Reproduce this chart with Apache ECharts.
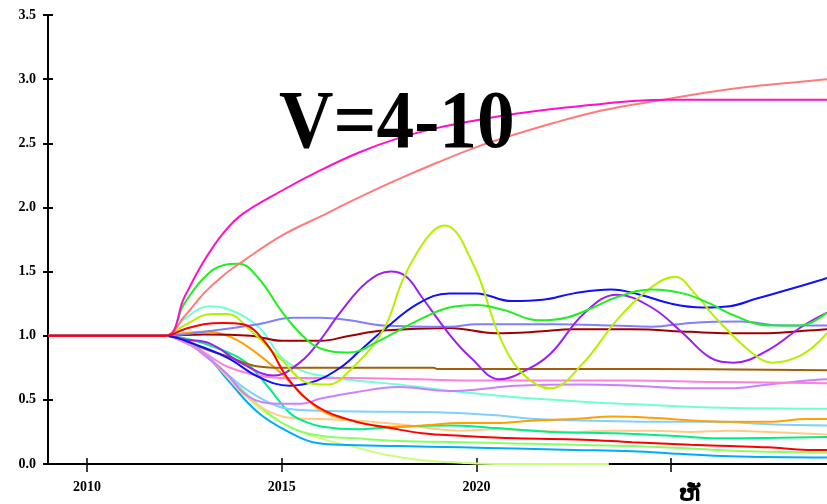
<!DOCTYPE html>
<html lang="en">
<head>
<meta charset="UTF-8">
<title>V=4-10</title>
<script src="https://cdn.jsdelivr.net/npm/echarts@6.0.0/dist/echarts.min.js"></script>
<style>
  html, body { margin: 0; padding: 0; background: #fff; }
  #main { width: 827px; height: 504px; }
</style>
</head>
<body>
<div id="main"></div>
<script>
  // tick labels
  const yTicks = [0, 0.5, 1, 1.5, 2, 2.5, 3, 3.5];
  const xTicks = [2010, 2015, 2020, 2025];
  const xTickText = ['2010', '2015', '2020', 'ຫັ່'];

  // every run is flat at 1.0 until 2012
  const start = [[2009, 1], [2012, 1]];

  // [year, value]
  const magenta = [[2012.5, 1.3], [2013, 1.58], [2013.5, 1.8], [2014, 1.95], [2015, 2.13], [2016, 2.29], [2017, 2.43], [2018, 2.54], [2019, 2.62], [2020, 2.68], [2021, 2.73], [2022, 2.77], [2023, 2.8], [2024, 2.83], [2025, 2.84], [2029, 2.84]];
  const salmon = [[2012.5, 1.15], [2013, 1.33], [2013.5, 1.47], [2014, 1.58], [2015, 1.78], [2016, 1.93], [2017, 2.08], [2018, 2.22], [2019, 2.35], [2020, 2.47], [2021, 2.57], [2022, 2.66], [2023, 2.74], [2024, 2.8], [2025, 2.85], [2026, 2.9], [2027, 2.94], [2028, 2.97], [2029, 3.0]];
  const green = [[2012.5, 1.25], [2013, 1.45], [2013.5, 1.55], [2013.9, 1.56], [2014.4, 1.45], [2015, 1.19], [2015.5, 1.01], [2016, 0.9], [2016.75, 0.87], [2017.5, 0.96], [2018, 1.04], [2018.5, 1.12], [2019.3, 1.22], [2020, 1.24], [2020.7, 1.2], [2021.6, 1.12], [2022.3, 1.14], [2023, 1.22], [2023.6, 1.3], [2024.5, 1.36], [2025.3, 1.33], [2026, 1.25], [2026.6, 1.16], [2027.5, 1.08], [2028.3, 1.08], [2029, 1.18]];
  const blue = [[2012.7, 0.94], [2013.6, 0.83], [2014.4, 0.68], [2015.2, 0.61], [2015.9, 0.65], [2016.5, 0.75], [2017, 0.88], [2017.6, 1.04], [2018.5, 1.25], [2019.3, 1.33], [2020, 1.33], [2020.9, 1.27], [2021.7, 1.28], [2022.5, 1.33], [2023.45, 1.36], [2024.2, 1.32], [2025, 1.25], [2025.8, 1.22], [2026.5, 1.23], [2027.2, 1.29], [2027.9, 1.35], [2028.8, 1.43], [2029, 1.45]];
  const purple = [[2012.5, 0.97], [2013.15, 0.94], [2014, 0.78], [2014.8, 0.69], [2015.5, 0.8], [2016, 0.97], [2016.5, 1.18], [2017.2, 1.42], [2017.8, 1.5], [2018.2, 1.46], [2018.6, 1.3], [2019.33, 1.0], [2019.85, 0.83], [2020.6, 0.66], [2021.2, 0.72], [2021.9, 0.86], [2022.75, 1.17], [2023.6, 1.32], [2024.5, 1.22], [2025.3, 1.02], [2026, 0.83], [2026.6, 0.79], [2027.5, 0.89], [2028.35, 1.07], [2029, 1.18]];
  const yellowGreen = [[2012.5, 1.08], [2013.2, 1.17], [2013.6, 1.17], [2014.2, 1.04], [2015, 0.81], [2015.7, 0.63], [2016.2, 0.62], [2016.75, 0.73], [2017.6, 1.04], [2018.1, 1.43], [2018.5, 1.66], [2018.9, 1.82], [2019.2, 1.86], [2019.5, 1.8], [2019.8, 1.63], [2020.1, 1.43], [2020.6, 0.99], [2021.2, 0.7], [2021.9, 0.59], [2022.75, 0.79], [2023.6, 1.12], [2024.5, 1.38], [2025.1, 1.46], [2025.6, 1.33], [2026.2, 1.12], [2027.1, 0.86], [2027.6, 0.79], [2028.35, 0.85], [2029, 1.02]];
  const periwinkle = [[2013, 1.03], [2014.4, 1.09], [2015.3, 1.14], [2016, 1.14], [2016.75, 1.12], [2017.6, 1.08], [2019.3, 1.07], [2020, 1.09], [2022, 1.09], [2023.5, 1.08], [2024.5, 1.07], [2025.5, 1.1], [2026.8, 1.11], [2027.8, 1.08], [2029, 1.08]];
  const darkRed = [[2013, 1.01], [2014.2, 1.0], [2015, 0.96], [2016, 0.96], [2016.75, 1.0], [2017.6, 1.04], [2019.3, 1.06], [2020.5, 1.02], [2021.5, 1.03], [2022.5, 1.05], [2024, 1.05], [2025.5, 1.03], [2026.5, 1.02], [2027.5, 1.02], [2028.5, 1.04], [2029, 1.05]];
  const brown = [[2012.5, 0.97], [2013, 0.9], [2013.6, 0.84], [2014.4, 0.76], [2015, 0.75], [2018.9, 0.75], [2019, 0.74], [2024.5, 0.74], [2029, 0.73]];
  const pink = [[2012.5, 0.95], [2013, 0.87], [2013.6, 0.76], [2014.4, 0.69], [2015.2, 0.67], [2016.75, 0.67], [2018.5, 0.66], [2020, 0.65], [2022, 0.65], [2024, 0.65], [2026, 0.64], [2029, 0.63]];
  const lilac = [[2012.5, 0.96], [2013, 0.85], [2013.6, 0.7], [2014, 0.56], [2014.4, 0.49], [2014.9, 0.47], [2015.5, 0.47], [2016, 0.51], [2016.9, 0.56], [2018, 0.6], [2019.3, 0.57], [2020, 0.58], [2021, 0.61], [2022.75, 0.62], [2024, 0.61], [2025.5, 0.59], [2026.5, 0.59], [2027.5, 0.62], [2028.5, 0.65], [2029, 0.66]];
  const aquamarine = [[2012.5, 1.13], [2013.15, 1.23], [2013.6, 1.21], [2014.4, 1.07], [2015, 0.83], [2015.5, 0.73], [2016, 0.69], [2016.9, 0.65], [2018, 0.62], [2019.3, 0.57], [2020, 0.55], [2021, 0.52], [2022, 0.5], [2023, 0.48], [2024.5, 0.46], [2026, 0.44], [2029, 0.43]];
  const skyBlue = [[2012.5, 0.95], [2013, 0.86], [2013.6, 0.7], [2014.2, 0.56], [2014.9, 0.45], [2015.5, 0.42], [2017, 0.41], [2019.3, 0.4], [2020.5, 0.38], [2021.5, 0.35], [2022.75, 0.34], [2024.5, 0.33], [2026.2, 0.33], [2027.5, 0.31], [2029, 0.3]];
  const orange = [[2012.5, 1.02], [2013, 1.03], [2013.4, 1.02], [2014, 0.94], [2014.9, 0.73], [2015.4, 0.58], [2016.05, 0.41], [2016.9, 0.33], [2017.8, 0.29], [2018.6, 0.3], [2019.6, 0.32], [2020.5, 0.32], [2021.5, 0.34], [2022.5, 0.35], [2023.5, 0.37], [2024.5, 0.36], [2025.5, 0.34], [2026.5, 0.33], [2027.5, 0.33], [2028.5, 0.35], [2029, 0.35]];
  const springGreen = [[2012.5, 0.98], [2013, 0.94], [2014, 0.81], [2014.6, 0.62], [2015.2, 0.4], [2015.6, 0.33], [2016.05, 0.29], [2016.9, 0.27], [2018, 0.29], [2019.3, 0.3], [2020.5, 0.28], [2021.9, 0.25], [2023.5, 0.24], [2025, 0.22], [2026.2, 0.2], [2029, 0.21]];
  const lightOrange = [[2012.5, 0.95], [2013, 0.86], [2013.6, 0.68], [2014, 0.55], [2014.6, 0.42], [2015.2, 0.36], [2016, 0.35], [2016.9, 0.34], [2018, 0.31], [2019.6, 0.26], [2020.5, 0.27], [2021.5, 0.26], [2022.5, 0.25], [2023.5, 0.26], [2024.5, 0.26], [2025.5, 0.25], [2026.5, 0.26], [2027.5, 0.25], [2029, 0.23]];
  const lightGreen = [[2012.5, 0.95], [2013, 0.86], [2013.6, 0.7], [2014.4, 0.46], [2015.2, 0.29], [2016, 0.22], [2016.9, 0.2], [2018, 0.18], [2019.6, 0.17], [2021, 0.16], [2022.5, 0.15], [2024, 0.14], [2025.5, 0.12], [2027, 0.1], [2029, 0.09]];
  const deepSky = [[2012.5, 0.95], [2013, 0.87], [2013.6, 0.66], [2014.4, 0.4], [2015.3, 0.23], [2015.8, 0.17], [2016.5, 0.15], [2018, 0.14], [2019.6, 0.13], [2021, 0.12], [2022.5, 0.11], [2024, 0.1], [2025.2, 0.08], [2026.5, 0.06], [2029, 0.05]];
  const paleLime = [[2012.5, 0.95], [2013, 0.86], [2013.6, 0.68], [2014.4, 0.44], [2015.2, 0.29], [2016, 0.2], [2016.9, 0.13], [2017.7, 0.07], [2018.6, 0.03], [2019.6, 0.01], [2020.5, 0.0], [2023.4, 0.0]];
  const red = [[2012.5, 1.05], [2013, 1.09], [2013.5, 1.1], [2014, 1.09], [2014.6, 0.94], [2015.2, 0.65], [2015.9, 0.45], [2016.9, 0.33], [2017.8, 0.28], [2018.6, 0.24], [2019.6, 0.22], [2021, 0.2], [2022.75, 0.19], [2024, 0.17], [2025.5, 0.15], [2026.5, 0.14], [2027.5, 0.13], [2028.5, 0.11], [2029, 0.11]];

  const runs = [
    ['paleLime', paleLime, '#ccff77'],
    ['lightGreen', lightGreen, '#88ff66'],
    ['deepSky', deepSky, '#00aaff'],
    ['lightOrange', lightOrange, '#ffcc88'],
    ['springGreen', springGreen, '#00ee88'],
    ['skyBlue', skyBlue, '#80d0ff'],
    ['orange', orange, '#ffa000'],
    ['aquamarine', aquamarine, '#70ffd0'],
    ['lilac', lilac, '#cc80ff'],
    ['pink', pink, '#ff80d8'],
    ['brown', brown, '#a0600a'],
    ['darkRed', darkRed, '#a00000'],
    ['periwinkle', periwinkle, '#7f7fff'],
    ['purple', purple, '#9a1ff0'],
    ['blue', blue, '#1010ff'],
    ['yellowGreen', yellowGreen, '#b4f000'],
    ['green', green, '#22ee22'],
    ['salmon', salmon, '#ff7b7b'],
    ['magenta', magenta, '#ff10c8'],
    ['red', red, '#ff0000']
  ];

  const labelFont = { fontFamily: 'Liberation Serif', fontWeight: 'bold', fontSize: 14, color: '#000' };

  const chart = echarts.init(document.getElementById('main'));
  chart.setOption({
    animation: false,
    backgroundColor: '#fff',
    grid: { left: 48, right: 0, top: 15, bottom: 40, outerBoundsMode: 'none', containLabel: false },
    xAxis: [{
      type: 'value', min: 2009, max: 2029,
      axisLine: { lineStyle: { color: '#000', width: 2 } },
      axisTick: { customValues: xTicks, length: 8, lineStyle: { color: '#000', width: 1.5 } },
      axisLabel: Object.assign({
        customValues: xTicks, margin: 16,
        formatter: v => {
          const t = xTickText[xTicks.indexOf(v)];
          return v === 2025 ? '{g|' + t + '}' : t;
        },
        rich: { g: { fontFamily: 'DejaVu Sans', fontWeight: 'bold', fontSize: 22, padding: [4, 0, 0, 38], color: '#000' } }
      }, labelFont),
      splitLine: { show: false }
    }, {
      type: 'value', min: 2009, max: 2029, position: 'bottom',
      axisLine: { show: false },
      axisTick: { customValues: xTicks, inside: true, length: 6, lineStyle: { color: '#000', width: 1.5 } },
      axisLabel: { show: false },
      splitLine: { show: false }
    }],
    yAxis: [{
      type: 'value', min: 0, max: 3.5, interval: 0.5,
      axisLine: { show: true, lineStyle: { color: '#000', width: 2 } },
      axisTick: { show: true, length: 5, lineStyle: { color: '#000', width: 2 } },
      axisLabel: Object.assign({ margin: 12, formatter: v => v.toFixed(1) }, labelFont),
      splitLine: { show: false }
    }, {
      type: 'value', min: 0, max: 3.5, interval: 0.5, position: 'left',
      axisLine: { show: false },
      axisTick: { show: true, inside: true, length: 5, lineStyle: { color: '#000', width: 2 } },
      axisLabel: { show: false },
      splitLine: { show: false }
    }],
    graphic: [{
      type: 'text', left: 279, top: 85, scaleX: 0.92,
      style: { text: 'V=4-10', fontFamily: 'Liberation Serif', fontWeight: 'bold', fontSize: 82, fill: '#000' },
      z: 100
    }],
    series: runs.map(([name, pts, color]) => ({
      name, type: 'line', xAxisIndex: 0, yAxisIndex: 0,
      data: start.concat(pts),
      showSymbol: false, symbol: 'none',
      smooth: 0.4,
      lineStyle: { color, width: 2 }
    }))
  });
</script>
</body>
</html>
